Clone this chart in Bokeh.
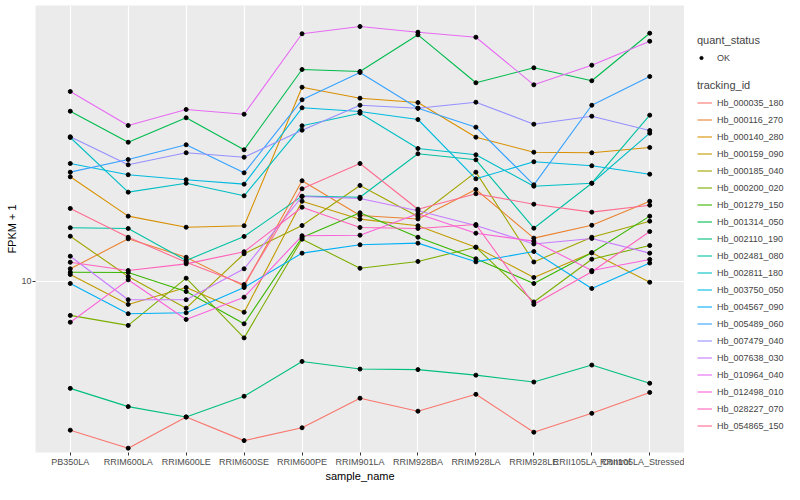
from bokeh.plotting import figure
from bokeh.layouts import row
from bokeh.models import Range1d, FixedTicker, Legend, LegendItem, PrintfTickFormatter
from bokeh.embed import file_html
from bokeh.resources import INLINE

samples = ["PB350LA", "RRIM600LA", "RRIM600LE", "RRIM600SE", "RRIM600PE", "RRIM901LA",
           "RRIM928BA", "RRIM928LA", "RRIM928LE", "RRII105LA_Control", "RRII105LA_Stressed"]

tracking_ids = ["Hb_000035_180", "Hb_000116_270", "Hb_000140_280", "Hb_000159_090",
                "Hb_000185_040", "Hb_000200_020", "Hb_001279_150", "Hb_001314_050",
                "Hb_002110_190", "Hb_002481_080", "Hb_002811_180", "Hb_003750_050",
                "Hb_004567_090", "Hb_005489_060", "Hb_007479_040", "Hb_007638_030",
                "Hb_010964_040", "Hb_012498_010", "Hb_028227_070", "Hb_054865_150"]

colors = ["#F8766D", "#EA8331", "#D89000", "#C09B00", "#A3A500", "#7CAE00", "#39B600",
          "#00BB4E", "#00BF7D", "#00C1A3", "#00BFC4", "#00BAE0", "#00B0F6", "#35A2FF",
          "#9590FF", "#C77CFF", "#E76BF3", "#FA62DB", "#FF62BC", "#FF6C91"]

Hb_000035_180 = [3.76, 3.34, 4.10, 3.51, 3.82, 4.64, 4.26, 4.76, 3.71, 4.20, 4.82]
Hb_000116_270 = [10.87, 13.24, 11.73, 9.70, 19.40, 15.44, 15.09, 18.32, 13.30, 14.48, 16.96]
Hb_000140_280 = [19.91, 15.37, 14.29, 14.43, 35.90, 33.40, 32.46, 25.84, 23.41, 23.32, 24.15]
Hb_000159_090 = [10.47, 8.60, 9.61, 8.17, 16.96, 15.07, 14.43, 12.53, 10.27, 12.08, 9.95]
Hb_000185_040 = [13.47, 10.33, 8.39, 12.00, 14.45, 18.81, 15.34, 20.53, 11.37, 13.38, 14.87]
Hb_000200_020 = [8.00, 7.49, 10.22, 6.90, 13.21, 10.91, 11.41, 12.53, 8.74, 11.58, 12.67]
Hb_001279_150 = [10.63, 10.61, 9.36, 7.57, 13.36, 15.71, 13.38, 11.61, 9.87, 12.08, 15.37]
Hb_001314_050 = [30.66, 25.00, 29.36, 23.78, 40.34, 39.81, 50.68, 36.96, 40.79, 37.45, 51.22]
Hb_002110_190 = [4.95, 4.39, 4.10, 4.70, 5.91, 5.62, 5.60, 5.40, 5.16, 5.77, 5.12]
Hb_002481_080 = [14.24, 14.17, 11.48, 13.45, 17.53, 17.41, 23.17, 22.27, 14.20, 19.09, 29.87]
Hb_002811_180 = [25.79, 18.00, 19.09, 17.57, 27.85, 30.26, 23.99, 23.01, 18.72, 19.09, 26.53]
Hb_003750_050 = [21.73, 20.18, 19.53, 18.97, 31.35, 30.60, 29.03, 19.65, 21.98, 21.41, 20.26]
Hb_004567_090 = [9.87, 8.09, 8.14, 9.61, 12.05, 12.73, 12.87, 11.38, 12.18, 9.55, 11.29]
Hb_005489_060 = [20.53, 22.31, 24.58, 20.44, 33.05, 39.55, 31.27, 27.60, 18.89, 31.89, 38.52]
Hb_007479_040 = [25.91, 21.55, 23.32, 22.65, 27.06, 31.89, 31.27, 32.53, 28.15, 29.67, 27.00]
Hb_007638_030 = [11.81, 8.87, 8.87, 10.87, 17.49, 17.26, 15.92, 14.45, 12.80, 13.27, 12.05]
Hb_010964_040 = [34.90, 27.91, 31.01, 30.06, 51.02, 53.53, 51.56, 49.89, 36.47, 41.50, 48.59]
Hb_012498_010 = [7.65, 10.11, 7.79, 9.02, 13.51, 13.56, 15.61, 13.74, 13.04, 10.75, 11.56]
Hb_028227_070 = [11.35, 10.75, 11.23, 12.16, 16.30, 14.27, 14.17, 14.55, 8.60, 10.66, 13.89]
Hb_054865_150 = [16.17, 13.38, 11.35, 9.80, 18.40, 21.73, 16.09, 17.81, 16.63, 15.78, 16.52]

series_values = [Hb_000035_180, Hb_000116_270, Hb_000140_280, Hb_000159_090, Hb_000185_040,
                 Hb_000200_020, Hb_001279_150, Hb_001314_050, Hb_002110_190, Hb_002481_080,
                 Hb_002811_180, Hb_003750_050, Hb_004567_090, Hb_005489_060, Hb_007479_040,
                 Hb_007638_030, Hb_010964_040, Hb_012498_010, Hb_028227_070, Hb_054865_150]

y_ticks = [10]
FONT = "Liberation Sans"

xs = list(range(1, len(samples) + 1))

# ---------------- main panel ----------------
p = figure(width=684, height=484, y_axis_type="log",
           x_range=Range1d(0.4, len(samples) + 0.6), y_range=Range1d(3.2461, 61.46),
           output_backend="svg", toolbar_location=None,
           min_border_left=35, min_border_right=0, min_border_top=5, min_border_bottom=20)
p.background_fill_color = "#EBEBEB"
p.border_fill_color = "white"
p.outline_line_color = None

p.xaxis.ticker = FixedTicker(ticks=xs, minor_ticks=[])
p.xgrid.ticker = FixedTicker(ticks=xs, minor_ticks=[])
p.xaxis.major_label_overrides = {x: s for x, s in zip(xs, samples)}
p.yaxis.ticker = FixedTicker(ticks=y_ticks, minor_ticks=[])
p.ygrid.ticker = FixedTicker(ticks=y_ticks, minor_ticks=[])
p.yaxis.formatter = PrintfTickFormatter(format="%d")

p.grid.grid_line_color = "white"
p.grid.grid_line_width = 1.2
p.grid.minor_grid_line_color = None

p.axis.axis_line_color = None
p.axis.major_tick_line_color = "#333333"
p.axis.major_tick_out = 3
p.axis.major_tick_in = 0
p.axis.minor_tick_line_color = None
p.axis.major_label_text_font = FONT
p.axis.major_label_text_font_size = "9px"
p.axis.major_label_text_color = "#4D4D4D"
p.axis.major_label_standoff = 1
p.axis.axis_label_text_font = FONT
p.axis.axis_label_text_font_size = "11px"
p.axis.axis_label_text_font_style = "normal"
p.axis.axis_label_text_color = "black"
p.axis.axis_label_standoff = 0
p.xaxis.axis_label = "sample_name"
p.yaxis.axis_label = "FPKM + 1"

all_x, all_y = [], []
for vals, col in zip(series_values, colors):
    p.line(xs, vals, line_color=col, line_width=1.1)
    all_x.extend(xs)
    all_y.extend(vals)
p.scatter(all_x, all_y, size=4, marker="circle", fill_color="black", line_color="black")

# ---------------- legend panel ----------------
lg = figure(width=100, height=484, output_backend="svg", toolbar_location=None,
            x_range=Range1d(0, 1), y_range=Range1d(0, 1),
            x_axis_location=None, y_axis_location=None,
            min_border_left=0, min_border_right=0, min_border_top=0, min_border_bottom=0)
lg.outline_line_color = None
lg.background_fill_color = "white"
lg.border_fill_color = "white"
lg.grid.visible = False

# legend-only renderers: one point each, placed outside the visible range
items = []
for tid, col in zip(tracking_ids, colors):
    r = lg.line([-5], [-5], line_color=col, line_width=1.1)
    items.append(LegendItem(label=tid, renderers=[r]))
ok_r = lg.scatter([-5], [-5], size=4, marker="circle", fill_color="black", line_color="black")

common = dict(padding=0, margin=0, spacing=0, glyph_height=17,
              label_height=17, border_line_alpha=0,
              background_fill_alpha=0, title_standoff=3,
              label_text_font=FONT, label_text_font_size="9px",
              title_text_font=FONT, title_text_font_size="11px",
              title_text_font_style="normal")

leg1 = Legend(items=[LegendItem(label="OK", renderers=[ok_r])], title="quant_status",
              location=(13, 386), glyph_width=8, label_standoff=12, **common)
leg2 = Legend(items=items, title="tracking_id", location=(13, 18),
              glyph_width=15, label_standoff=5, **common)
lg.add_layout(leg1)
lg.add_layout(leg2)

layout = row(p, lg, spacing=0)
open("out.html", "w").write(file_html(layout, INLINE))
